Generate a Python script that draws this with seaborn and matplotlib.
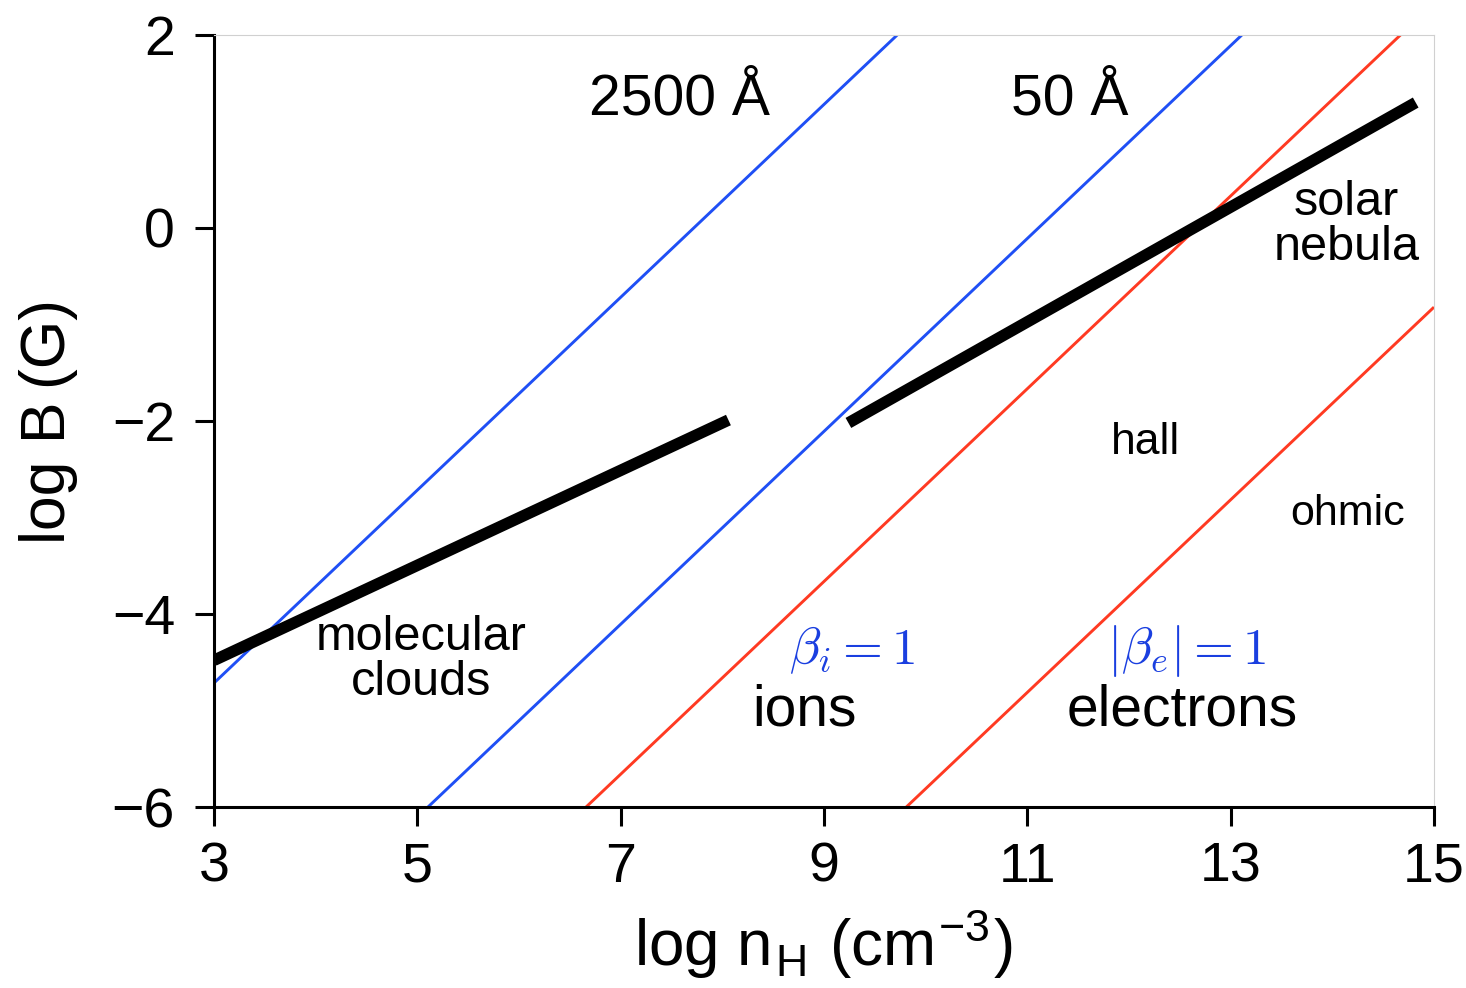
import matplotlib
matplotlib.use("Agg")
import matplotlib.pyplot as plt
import seaborn as sns
import pandas as pd

# ---- data (line endpoints) ----
blue_2500_x = [3.0, 9.72]
blue_2500_y = [-4.715, 2.0]
blue_50_x = [5.105, 13.11]
blue_50_y = [-6.0, 2.0]
red_ions_x = [6.66, 14.67]
red_ions_y = [-6.0, 2.0]
red_elec_x = [9.81, 15.0]
red_elec_y = [-6.0, -0.82]
mol_x = [3.0, 8.06]
mol_y = [-4.48, -1.99]
neb_x = [9.24, 14.82]
neb_y = [-2.02, 1.30]

x_ticks = [3, 5, 7, 9, 11, 13, 15]
y_ticks = [-6, -4, -2, 0, 2]

sns.set_style("ticks")
plt.rcParams['font.family'] = ['Liberation Sans', 'DejaVu Sans']
plt.rcParams['mathtext.fontset'] = 'cm'
plt.rcParams['axes.labelcolor'] = 'black'
plt.rcParams['text.color'] = 'black'

fig = plt.figure(figsize=(14.66, 9.88), dpi=100)
ax = fig.add_axes([214/1466, 1-807/988, (1434-214)/1466, (807-35)/988])

BLUE = "#1f4ff5"
RED = "#ff3a22"

def draw(xs, ys, color, lw):
    df = pd.DataFrame({"x": xs, "y": ys})
    sns.lineplot(data=df, x="x", y="y", ax=ax, color=color, linewidth=lw,
                 sort=False, estimator=None, solid_capstyle="butt")

draw(blue_2500_x, blue_2500_y, BLUE, 2.1)
draw(blue_50_x, blue_50_y, BLUE, 2.1)
draw(red_ions_x, red_ions_y, RED, 2.1)
draw(red_elec_x, red_elec_y, RED, 2.1)
draw(mol_x, mol_y, "black", 8.3)
draw(neb_x, neb_y, "black", 8.3)

ax.set_xlim(3, 15)
ax.set_ylim(-6, 2)
ax.set_xticks(x_ticks)
ax.set_yticks(y_ticks)
ax.set_xticklabels([str(v) for v in x_ticks])
ax.set_yticklabels([("\u2212" + str(-v)) if v < 0 else str(v) for v in y_ticks])
ax.tick_params(axis="both", direction="out", length=14, width=2.2,
               labelsize=40, color="black", labelcolor="black")
ax.tick_params(axis="x", pad=11)
ax.tick_params(axis="y", pad=14)

for s in ["left", "bottom"]:
    ax.spines[s].set_linewidth(2.2)
    ax.spines[s].set_color("black")
for s in ["top", "right"]:
    ax.spines[s].set_linewidth(0.8)
    ax.spines[s].set_color("#d0d0d0")

ax.set_xlabel(r"log n$_\mathregular{H}$ (cm$^{\mathregular{-3}}$)", fontsize=46, labelpad=10)
ax.set_ylabel("log B\u2009(G)", fontsize=45, labelpad=24)

tk = dict(ha="center", va="center", color="black")
ax.text(7.58, 1.33, "2500 Å", fontsize=41, **tk)
ax.text(11.42, 1.33, "50 Å", fontsize=41, **tk)
ax.text(14.14, 0.03, "solar\nnebula", fontsize=35, linespacing=1.0, **tk)
ax.text(12.16, -2.22, "hall", fontsize=32, **tk)
ax.text(14.15, -2.96, "ohmic", fontsize=31, **tk)
ax.text(5.04, -4.48, "molecular\nclouds", fontsize=35, linespacing=1.0, **tk)
ax.text(8.81, -5.0, "ions", fontsize=41, **tk)
ax.text(12.52, -5.0, "electrons", fontsize=41, **tk)
ax.text(9.28, -4.38, r"$\beta_i = 1$", fontsize=37, ha="center", va="center", color="#1a3fe0")
ax.text(12.57, -4.38, r"$|\beta_e| = 1$", fontsize=37, ha="center", va="center", color="#1a3fe0")

fig.savefig("out.png", dpi=100)
